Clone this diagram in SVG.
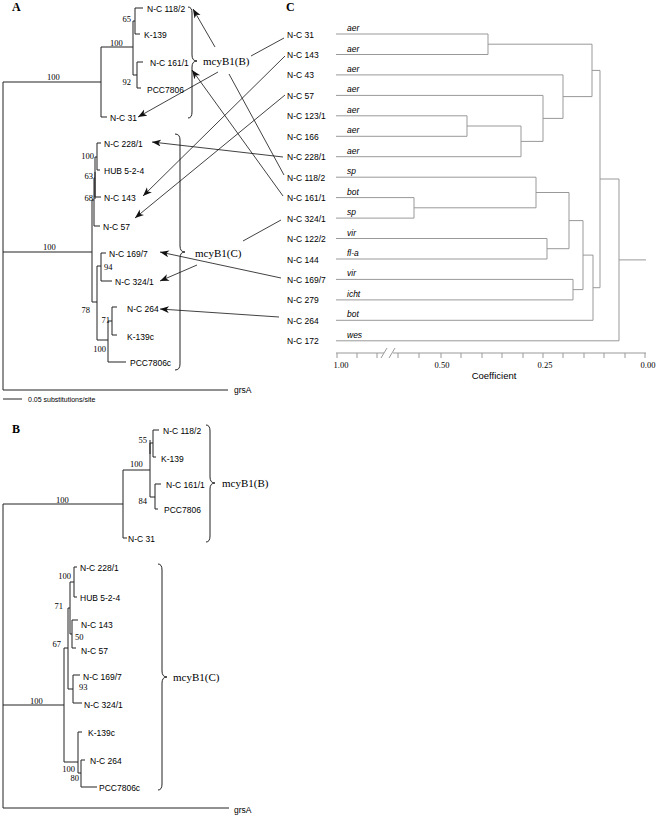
<svg xmlns="http://www.w3.org/2000/svg" width="656" height="817" viewBox="0 0 656 817">
<style>
.t{font-family:"Liberation Sans",Arial,sans-serif;font-size:8.5px;fill:#000}
.s{font-family:"Liberation Serif","Times New Roman",serif;font-size:8.5px;fill:#000}
.g{font-family:"Liberation Serif","Times New Roman",serif;font-size:11px;fill:#000}
.p{font-family:"Liberation Serif","Times New Roman",serif;font-size:12px;font-weight:bold;fill:#000}
.i{font-family:"Liberation Sans",Arial,sans-serif;font-size:8.5px;font-style:italic;fill:#000}
.tree{stroke:#222;stroke-width:1;fill:none}
.den{stroke:#999;stroke-width:1;fill:none}
.brace{stroke:#222;stroke-width:1;fill:none}
.conn{stroke:#111;stroke-width:0.8;fill:none}
.r{text-anchor:end}
.m{text-anchor:middle}
</style>
<defs>
<marker id="ah" markerUnits="userSpaceOnUse" markerWidth="10" markerHeight="8" refX="9" refY="3.5" orient="auto">
<path d="M0,0 L9,3.5 L0,7 L2.5,3.5 z" fill="#111"/>
</marker>
</defs>
<rect width="656" height="817" fill="#fff"/>

<!-- Panel A -->
<g id="panelA">
<text class="p" x="12" y="11">A</text>
<path class="tree" d="M3,82 H101 M3,82 V390 H228 M3,252 H92 M101,47 V117 H107 M101,47 H133 M133,21 V75 M133,21 H135 M135,8 V34 M135,8 H143 M135,34 H140 M133,75 H137 M137,62 V88 M137,62 H143 M137,88 H141 M92,200 V302 M92,200 H94 M94,178 V226 H100 M94,178 H95 M95,157 V197 H101 M95,157 H97 M97,143 V170 M97,143 H101 M97,170 H100 M92,302 H97 M97,266 V340 M97,266 H101 M101,253 V281 M101,253 H106 M101,281 H112 M97,340 H108 M108,321 V362 H126 M108,321 H112 M112,307 V335 M112,307 H117 M112,335 H117"/>
<path class="tree" stroke-width="1.8" d="M95,172 V199"/>
<path class="tree" d="M3,399 H22"/>
<text class="t" x="28" y="402" style="font-size:7px">0.05 substitutions/site</text>
<text class="t" x="234" y="393">grsA</text>
<g id="A-boot">
<text class="s" x="47" y="80">100</text>
<text class="s" x="110" y="46">100</text>
<text class="s r" x="131" y="22">65</text>
<text class="s r" x="131" y="85">92</text>
<text class="s" x="43" y="250">100</text>
<text class="s r" x="94" y="159">100</text>
<text class="s r" x="93" y="179">63</text>
<text class="s r" x="93" y="201">68</text>
<text class="s" x="104" y="270">94</text>
<text class="s r" x="90" y="313">78</text>
<text class="s r" x="110" y="323">71</text>
<text class="s r" x="106" y="352">100</text>
</g>
<g id="A-NC118-2"><text class="t" x="147" y="12">N-C 118/2</text></g>
<g id="A-K139"><text class="t" x="144" y="38">K-139</text></g>
<g id="A-NC161-1"><text class="t" x="150" y="66">N-C 161/1</text></g>
<g id="A-PCC7806"><text class="t" x="147" y="93">PCC7806</text></g>
<g id="A-NC31"><text class="t" x="110" y="121">N-C 31</text></g>
<g id="A-NC228-1"><text class="t" x="104" y="147">N-C 228/1</text></g>
<g id="A-HUB"><text class="t" x="104" y="174">HUB 5-2-4</text></g>
<g id="A-NC143"><text class="t" x="104" y="201">N-C 143</text></g>
<g id="A-NC57"><text class="t" x="103" y="230">N-C 57</text></g>
<g id="A-NC169-7"><text class="t" x="109" y="257">N-C 169/7</text></g>
<g id="A-NC324-1"><text class="t" x="115" y="285">N-C 324/1</text></g>
<g id="A-NC264"><text class="t" x="127" y="312">N-C 264</text></g>
<g id="A-K139c"><text class="t" x="127" y="340">K-139c</text></g>
<g id="A-PCC7806c"><text class="t" x="130" y="366">PCC7806c</text></g>
<g id="A-mcyB1B">
<path class="brace" d="M188,7 Q192,7 192,13 V55 Q192,61 197,61 Q192,61 192,67 V112 Q192,118 188,118"/>
<text class="g" x="203" y="65">mcyB1(B)</text>
</g>
<g id="A-mcyB1C">
<path class="brace" d="M175,134 Q180,134 180,140 V246 Q180,252 185,252 Q180,252 180,258 V364 Q180,370 175,370"/>
<text class="g" x="195" y="257">mcyB1(C)</text>
</g>
</g>

<!-- Panel C -->
<g id="panelC">
<text class="p" x="286" y="11">C</text>
<g id="C-labels">
<g id="C-NC31"><text class="t" x="287" y="37.5">N-C 31</text></g>
<g id="C-NC143"><text class="t" x="287" y="58">N-C 143</text></g>
<g id="C-NC43"><text class="t" x="287" y="78.4">N-C 43</text></g>
<g id="C-NC57"><text class="t" x="287" y="98.9">N-C 57</text></g>
<g id="C-NC123-1"><text class="t" x="287" y="119.3">N-C 123/1</text></g>
<g id="C-NC166"><text class="t" x="287" y="139.8">N-C 166</text></g>
<g id="C-NC228-1"><text class="t" x="287" y="160.2">N-C 228/1</text></g>
<g id="C-NC118-2"><text class="t" x="287" y="180.7">N-C 118/2</text></g>
<g id="C-NC161-1"><text class="t" x="287" y="201.1">N-C 161/1</text></g>
<g id="C-NC324-1"><text class="t" x="287" y="221.6">N-C 324/1</text></g>
<g id="C-NC122-2"><text class="t" x="287" y="242">N-C 122/2</text></g>
<g id="C-NC144"><text class="t" x="287" y="262.5">N-C 144</text></g>
<g id="C-NC169-7"><text class="t" x="287" y="282.9">N-C 169/7</text></g>
<g id="C-NC279"><text class="t" x="287" y="303.4">N-C 279</text></g>
<g id="C-NC264"><text class="t" x="287" y="323.8">N-C 264</text></g>
<g id="C-NC172"><text class="t" x="287" y="344.3">N-C 172</text></g>
</g>
<g id="C-species">
<text class="i" x="347" y="31">aer</text>
<text class="i" x="347" y="51.5">aer</text>
<text class="i" x="347" y="71.9">aer</text>
<text class="i" x="347" y="92.4">aer</text>
<text class="i" x="347" y="112.8">aer</text>
<text class="i" x="347" y="133.3">aer</text>
<text class="i" x="347" y="153.7">aer</text>
<text class="i" x="347" y="174.2">sp</text>
<text class="i" x="347" y="194.6">bot</text>
<text class="i" x="347" y="215.1">sp</text>
<text class="i" x="347" y="235.5">vir</text>
<text class="i" x="347" y="256">fl-a</text>
<text class="i" x="347" y="276.4">vir</text>
<text class="i" x="347" y="296.9">icht</text>
<text class="i" x="347" y="317.3">bot</text>
<text class="i" x="347" y="337.8">wes</text>
</g>
<path class="den" d="M336,34 H488 V54.5 H336 M488,44.2 H592
M336,115.8 H467 V136.3 H336 M467,126 H521
M336,156.7 H521 V126 M521,141.4 H543
M336,95.4 H543 V141.4 M543,118.4 H563
M336,74.9 H563 V118.4 M563,96.6 H592
M592,44.2 V96.6 M592,70.4 H600
M336,197.6 H414 V218.1 H336 M414,207.8 H536
M336,177.2 H536 V207.8 M536,192.5 H569
M336,238.5 H547 V259 H336 M547,248.7 H569
M569,192.5 V248.7 M569,220.6 H583
M336,279.4 H573 V299.9 H336 M573,289.6 H583
M583,220.6 V289.6 M583,255.1 H593
M336,320.3 H593 V255.1 M593,287.7 H600
M600,70.4 V287.7 M600,179 H619
M336,340.8 H619 V179 M619,259.9 H646"/>
<g id="C-axis">
<path class="den" stroke="#555" d="M336,353 H384 M393,353 H646 M337,353 V358 M357,353 V358 M377,353 V358 M398,353 V358 M419,353 V358 M441,353 V358 M461,353 V358 M482,353 V358 M502,353 V358 M523,353 V358 M543,353 V358 M563,353 V358 M584,353 V358 M604,353 V358 M625,353 V358 M645,353 V358"/>
<path class="den" stroke="#555" d="M381,358 L387,348 M389,358 L395,348"/>
<text class="s m" x="341" y="368">1.00</text>
<text class="s m" x="442" y="368">0.50</text>
<text class="s m" x="545" y="368">0.25</text>
<text class="s m" x="648" y="368">0.00</text>
<text class="t m" x="494" y="379" style="font-size:9.5px">Coefficient</text>
</g>
</g>

<!-- Connectors -->
<g id="connectors">
<line class="conn" x1="215" y1="47" x2="193" y2="9" marker-end="url(#ah)"/>
<line class="conn" x1="251" y1="56" x2="284" y2="38"/>
<line class="conn" x1="218" y1="72" x2="138" y2="117" marker-end="url(#ah)"/>
<line class="conn" x1="229" y1="74" x2="284" y2="175"/>
<line class="conn" x1="283" y1="196" x2="192" y2="70" marker-end="url(#ah)"/>
<line class="conn" x1="285" y1="56" x2="143" y2="196" marker-end="url(#ah)"/>
<line class="conn" x1="285" y1="95" x2="135" y2="218" marker-end="url(#ah)"/>
<line class="conn" x1="283" y1="157" x2="152" y2="142" marker-end="url(#ah)"/>
<line class="conn" x1="281" y1="220" x2="243" y2="241"/>
<line class="conn" x1="281" y1="278" x2="160" y2="252" marker-end="url(#ah)"/>
<line class="conn" x1="197" y1="265" x2="160" y2="281" marker-end="url(#ah)"/>
<line class="conn" x1="279" y1="317" x2="160" y2="309" marker-end="url(#ah)"/>
</g>

<!-- Panel B -->
<g id="panelB">
<text class="p" x="12" y="433">B</text>
<path class="tree" d="M3,504 V808 H229 M3,504 H123 M123,470 V538 H127 M123,470 H150 M150,443 V497 M150,443 H153 M153,430 V457 M153,430 H159 M153,457 H156 M150,497 H155 M155,484 V509 M155,484 H161 M155,509 H158 M3,705 H64 M64,648 V762 M64,648 H68 M68,608 V689 M68,608 H70 M70,582 V634 M70,582 H74 M74,567 V597 M74,567 H77 M74,597 H77 M70,634 H72 M72,620 V648 M72,620 H78 M72,648 H76 M68,689 H73 M73,675 V703 M73,675 H80 M73,703 H82 M64,762 H78 M78,732 V773 M78,732 H82 M78,773 H81 M81,760 V787 M81,760 H85 M81,787 H97"/>
<path class="tree" stroke-width="1.8" d="M150,440 V454"/>
<text class="t" x="234" y="813">grsA</text>
<g id="B-boot">
<text class="s" x="56" y="503">100</text>
<text class="s" x="130" y="467">100</text>
<text class="s r" x="147" y="443">55</text>
<text class="s r" x="147" y="504">84</text>
<text class="s" x="30" y="704">100</text>
<text class="s r" x="71" y="579">100</text>
<text class="s r" x="63" y="609">71</text>
<text class="s" x="75" y="640">50</text>
<text class="s r" x="61" y="647">67</text>
<text class="s" x="79" y="690">93</text>
<text class="s r" x="75" y="772">100</text>
<text class="s r" x="79" y="781">80</text>
</g>
<g id="B-NC118-2"><text class="t" x="163" y="434">N-C 118/2</text></g>
<g id="B-K139"><text class="t" x="161" y="462">K-139</text></g>
<g id="B-NC161-1"><text class="t" x="166" y="488">N-C 161/1</text></g>
<g id="B-PCC7806"><text class="t" x="164" y="513">PCC7806</text></g>
<g id="B-NC31"><text class="t" x="128" y="542">N-C 31</text></g>
<g id="B-NC228-1"><text class="t" x="80" y="571">N-C 228/1</text></g>
<g id="B-HUB"><text class="t" x="80" y="601">HUB 5-2-4</text></g>
<g id="B-NC143"><text class="t" x="81" y="628">N-C 143</text></g>
<g id="B-NC57"><text class="t" x="81" y="654">N-C 57</text></g>
<g id="B-NC169-7"><text class="t" x="83" y="680">N-C 169/7</text></g>
<g id="B-NC324-1"><text class="t" x="84" y="708">N-C 324/1</text></g>
<g id="B-K139c"><text class="t" x="88" y="736">K-139c</text></g>
<g id="B-NC264"><text class="t" x="90" y="764">N-C 264</text></g>
<g id="B-PCC7806c"><text class="t" x="99" y="791">PCC7806c</text></g>
<g id="B-mcyB1B">
<path class="brace" d="M206,425 Q210,425 210,431 V477 Q210,483 215,483 Q210,483 210,489 V536 Q210,542 206,542"/>
<text class="g" x="222" y="487">mcyB1(B)</text>
</g>
<g id="B-mcyB1C">
<path class="brace" d="M158,564 Q162,564 162,570 V671 Q162,677 167,677 Q162,677 162,683 V784 Q162,790 158,790"/>
<text class="g" x="173" y="681">mcyB1(C)</text>
</g>
</g>
</svg>
